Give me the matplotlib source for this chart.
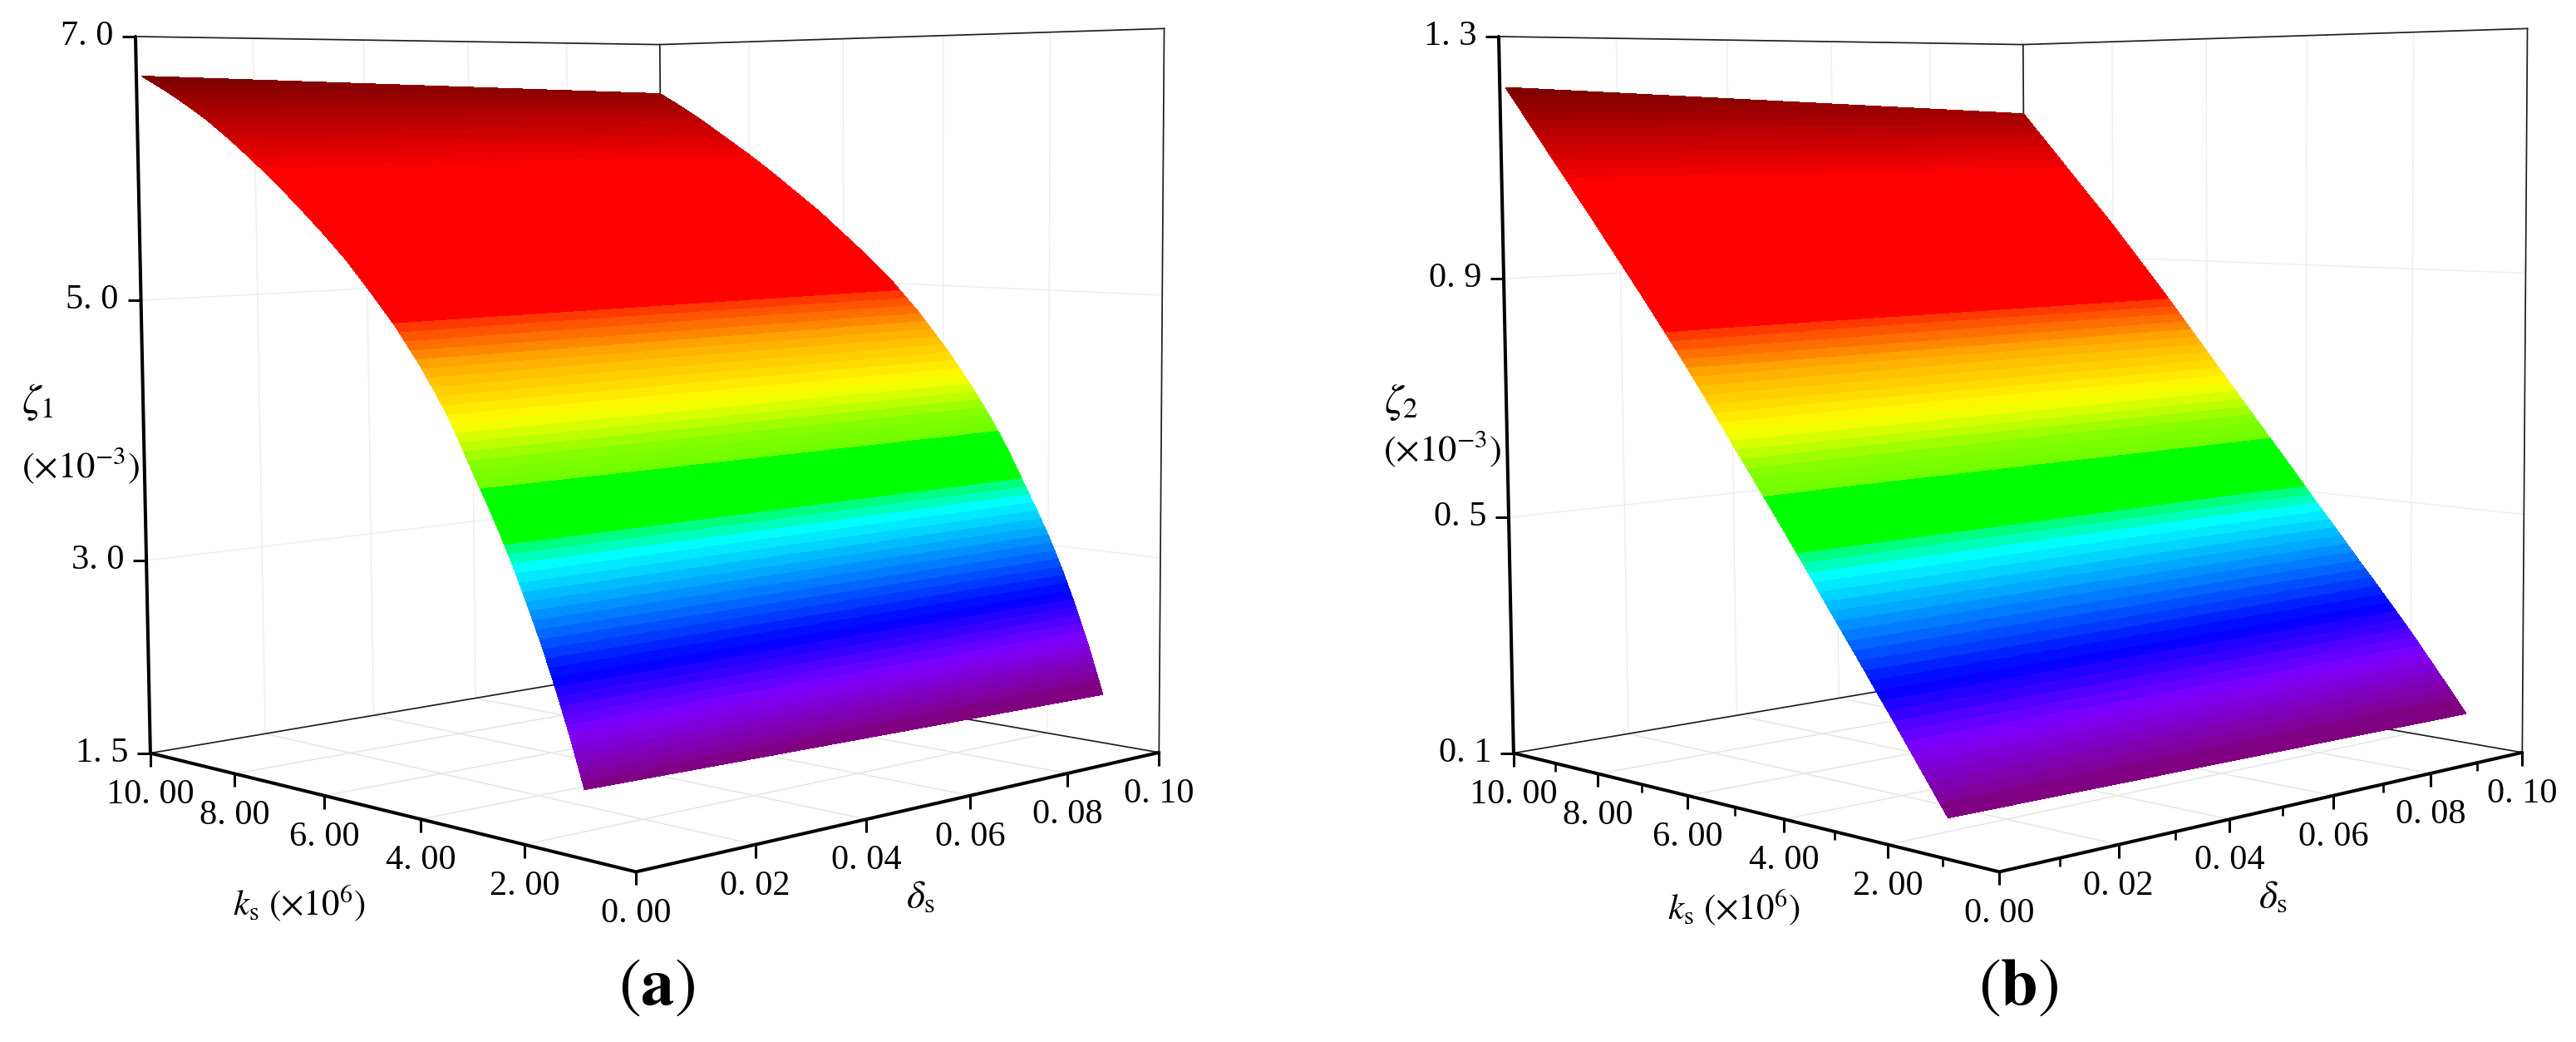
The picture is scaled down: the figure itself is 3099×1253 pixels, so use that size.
import numpy as np
import matplotlib
matplotlib.use('Agg')
import matplotlib.pyplot as plt
from matplotlib.colors import LinearSegmentedColormap
from mpl_toolkits.mplot3d import proj3d

plt.rcParams['font.family'] = ['Liberation Serif', 'DejaVu Serif']
plt.rcParams['mathtext.fontset'] = 'stix'

# damping ratio along the two long edges of each surface
k_values = [1, 1.25, 1.5, 1.75, 2, 2.25, 2.5, 2.75, 3, 3.25, 3.5, 3.75, 4, 4.5, 5, 5.5, 6, 6.5, 7, 7.5, 8, 8.5, 9, 9.5, 10]
delta_values = [0.001, 0.1]
zeta1_low_delta = [1.95, 2.28, 2.58, 2.86, 3.11, 3.35, 3.57, 3.77, 3.96, 4.16, 4.35, 4.51, 4.66, 4.93, 5.16, 5.38,
                   5.57, 5.75, 5.92, 6.08, 6.23, 6.37, 6.49, 6.60, 6.70]
zeta1_high_delta = [1.88, 2.23, 2.54, 2.82, 3.07, 3.29, 3.50, 3.71, 3.90, 4.07, 4.23, 4.38, 4.52, 4.78, 5.01, 5.21,
                    5.39, 5.57, 5.73, 5.89, 6.04, 6.18, 6.32, 6.45, 6.57]
zeta2_low_delta = [0.157, 0.189, 0.221, 0.253, 0.285, 0.316, 0.348, 0.379, 0.41, 0.441, 0.473, 0.504, 0.535, 0.596,
                   0.656, 0.717, 0.777, 0.834, 0.89, 0.945, 1.0, 1.054, 1.108, 1.162, 1.216]
zeta2_high_delta = [0.150, 0.182, 0.213, 0.244, 0.275, 0.304, 0.333, 0.362, 0.39, 0.419, 0.448, 0.476, 0.505, 0.563,
                    0.62, 0.678, 0.735, 0.793, 0.85, 0.905, 0.96, 1.012, 1.064, 1.116, 1.168]

k_ticks = [0, 2, 4, 6, 8, 10]
k_labels = ['0. 00', '2. 00', '4. 00', '6. 00', '8. 00', '10. 00']
delta_ticks = [0, 0.02, 0.04, 0.06, 0.08, 0.1]
delta_labels = ['0. 00', '0. 02', '0. 04', '0. 06', '0. 08', '0. 10']
z1_ticks = [1.5, 3, 5, 7]
z1_labels = ['1. 5', '3. 0', '5. 0', '7. 0']
z2_ticks = [0.1, 0.5, 0.9, 1.3]
z2_labels = ['0. 1', '0. 5', '0. 9', '1. 3']
k_minor = [1, 3, 5, 7, 9]
delta_minor = [0.01, 0.03, 0.05, 0.07, 0.09]

# colour stops of the banded rainbow, position on the surface height from 0 to 1
stop_pos = [0, 0.015, 0.09, 0.161, 0.306, 0.34, 0.34, 0.41, 0.41, 0.442, 0.499, 0.578, 0.64, 0.644, 0.851, 1]
stop_col = ['#800080', '#800080', '#8000ff', '#0000ff', '#00ffff', '#00ff50', '#00ff00', '#00ff00', '#70ff00',
            '#80ff00', '#ffff00', '#ffaa00', '#ff2800', '#ff0000', '#ff0000', '#7c0000']
n_bands = 80

W, H = 3099, 1253
BOX = 1400  # px size of each 3d axes

rainbow = LinearSegmentedColormap.from_list('bands', list(zip(stop_pos, stop_col)), N=512)

fig = plt.figure(figsize=(W / 100, H / 100), dpi=100)
ax2 = fig.add_axes([0, 0, 1, 1], zorder=5)
ax2.set_xlim(0, W)
ax2.set_ylim(H, 0)
ax2.axis('off')


def px(ax, d, k, z):
    x, y, _ = proj3d.proj_transform(np.asarray(d, float), np.asarray(k, float), np.asarray(z, float), ax.get_proj())
    q = ax.transData.transform(np.c_[x, y])
    return q[:, 0], H - q[:, 1]


def draw_panel(left, z_ticks, z_labels, low, high, minor, label, zeta_name, zeta_xy, unit_xy, k_xy, delta_xy, tag_xy):
    ax = fig.add_axes([left / W, 57.61 / H, BOX / W, BOX / H], projection='3d', computed_zorder=False)
    ax.set_xlim(0, 0.1)
    ax.set_ylim(0, 10)
    zmin, zmax = z_ticks[0], z_ticks[-1]
    ax.set_zlim(zmin, zmax)
    ax.view_init(elev=4.9727, azim=-133.2851, roll=0.3948)
    ax.set_proj_type('persp', focal_length=0.5052)
    ax.set_box_aspect((1, 1.0032, 1.0044), zoom=1.0421)
    ax.set_axis_off()
    ax.patch.set_visible(False)

    # grid on the floor and the two back walls
    floor = dict(color='#e6e6e6', lw=1.1, zorder=1)
    wall = dict(color='#eeeeee', lw=1.0, zorder=1)
    for k in k_ticks[1:-1]:
        ax.plot([0, 0.1], [k, k], [zmin, zmin], **floor)
        ax.plot([0.1, 0.1], [k, k], [zmin, zmax], **wall)
    for d in delta_ticks[1:-1]:
        ax.plot([d, d], [0, 10], [zmin, zmin], **floor)
        ax.plot([d, d], [10, 10], [zmin, zmax], **wall)
    for z in z_ticks[1:-1]:
        ax.plot([0, 0.1, 0.1], [10, 10, 0], [z, z, z], **wall)

    # thin back edges of the box
    thin = dict(color='#202020', lw=1.25, zorder=2)
    ax.plot([0, 0.1, 0.1], [10, 10, 0], [zmin, zmin, zmin], **thin)
    ax.plot([0, 0.1, 0.1], [10, 10, 0], [zmax, zmax, zmax], **thin)
    ax.plot([0.1, 0.1], [10, 10], [zmin, zmax], **thin)
    ax.plot([0.1, 0.1], [0, 0], [zmin, zmax], **thin)

    # the surface goes on the flat overlay so contourf can cut the bands
    dd, kk = np.meshgrid(delta_values, k_values)
    zz = np.column_stack([low, high])
    xs, ys = px(ax, dd.ravel(), kk.ravel(), zz.ravel())
    levels = np.linspace(zz.min() - 1e-6, zz.max() + 1e-6, n_bands + 1)
    colors = [rainbow((i + 0.5) / n_bands) for i in range(n_bands)]
    cs = ax2.contourf(xs.reshape(zz.shape), ys.reshape(zz.shape), zz, levels=levels, colors=colors, zorder=2)
    cs.set_edgecolor('face')
    cs.set_linewidth(0.5)

    # heavy front axes
    heavy = dict(color='black', lw=2.9, zorder=4, solid_capstyle='round')
    x0, y0 = px(ax, [0, 0, 0.1, 0, 0], [10, 0, 0, 10, 10], [zmin, zmin, zmin, zmin, zmax])
    ax2.plot(x0[:3], y0[:3], **heavy)
    ax2.plot(x0[3:], y0[3:], **heavy)

    tick = dict(color='black', zorder=4, solid_capstyle='butt')
    xt, yt = px(ax, np.zeros(len(k_ticks)), k_ticks, np.full(len(k_ticks), zmin))
    for x, y, s in zip(xt, yt, k_labels):
        ax2.plot([x, x], [y, y + 16], lw=2.2, **tick)
        ax2.text(x, y + 50, s, fontsize=30.5, ha='center', va='center')
    xt, yt = px(ax, delta_ticks, np.zeros(len(delta_ticks)), np.full(len(delta_ticks), zmin))
    for x, y, s in zip(xt[1:], yt[1:], delta_labels[1:]):
        ax2.plot([x, x], [y, y + 16], lw=2.2, **tick)
        ax2.text(x, y + 50, s, fontsize=30.5, ha='center', va='center')
    xt, yt = px(ax, np.zeros(len(z_ticks)), np.full(len(z_ticks), 10), z_ticks)
    for x, y, s in zip(xt, yt, z_labels):
        ax2.plot([x - 16, x], [y, y], lw=2.2, **tick)
        ax2.text(x - 27, y, s, fontsize=30.5, ha='right', va='center')
    if minor:
        xt, yt = px(ax, np.zeros(len(k_minor)), k_minor, np.full(len(k_minor), zmin))
        for x, y in zip(xt, yt):
            ax2.plot([x, x], [y, y + 10], lw=1.9, **tick)
        xt, yt = px(ax, delta_minor, np.zeros(len(delta_minor)), np.full(len(delta_minor), zmin))
        for x, y in zip(xt, yt):
            ax2.plot([x, x], [y, y + 10], lw=1.9, **tick)

    ax2.text(*zeta_xy, zeta_name, fontsize=36, ha='center', va='center')
    ax2.text(*unit_xy, r'$(\times 10^{-3})$', fontsize=32, ha='center', va='center')
    ax2.text(*k_xy, r'$k_{\mathrm{s}}\ (\times 10^{6})$', fontsize=31, ha='center', va='center')
    ax2.text(*delta_xy, r'$\delta_{\mathrm{s}}$', fontsize=34, ha='center', va='center')
    ax2.text(*tag_xy, label, fontsize=58, ha='center', va='center')


draw_panel(62.71, z1_ticks, z1_labels, zeta1_low_delta, zeta1_high_delta, False, r'$(\mathbf{a})$',
           r'$\zeta_{1}$', (45, 484), (97, 560), (360, 1087), (1108, 1080), (790, 1188))
draw_panel(1702.71, z2_ticks, z2_labels, zeta2_low_delta, zeta2_high_delta, True, r'$(\mathbf{b})$',
           r'$\zeta_{2}$', (1686, 483), (1735, 540), (2086, 1092), (2735, 1080), (2428, 1188))

ax2.set_xlim(0, W)
ax2.set_ylim(H, 0)
fig.savefig('out.png', dpi=100)
